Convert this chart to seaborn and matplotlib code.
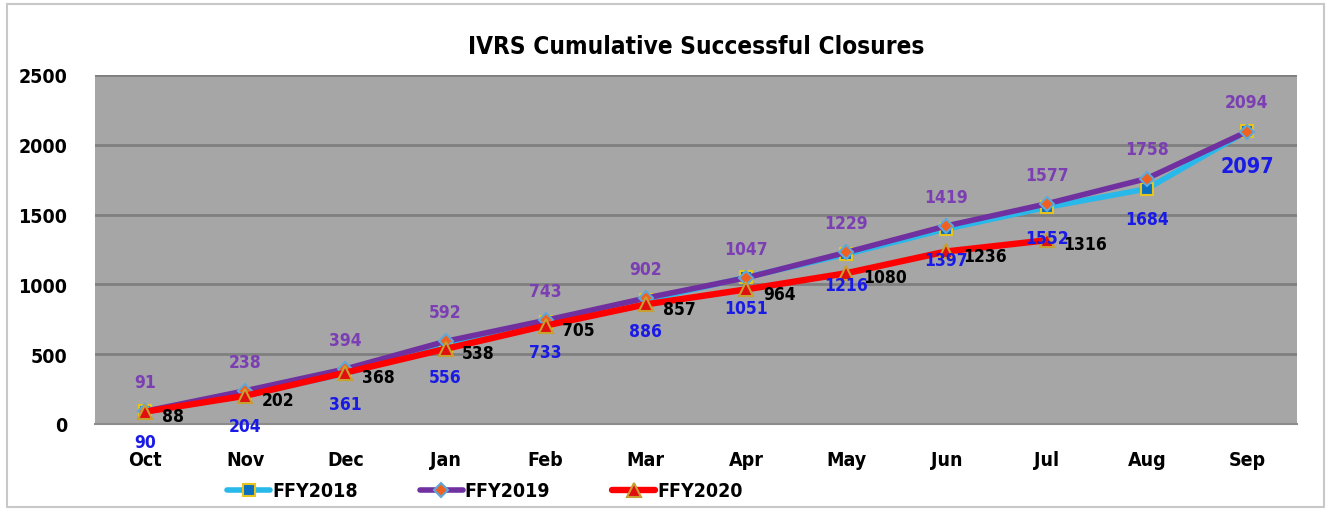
"""
IVRS cumulative successful closures, FFY2018-FFY2020.
"""
import numpy as np
import pandas as pd
import seaborn as sns
import matplotlib.pyplot as plt
from matplotlib.patches import Rectangle

months = ['Oct', 'Nov', 'Dec', 'Jan', 'Feb', 'Mar',
          'Apr', 'May', 'Jun', 'Jul', 'Aug', 'Sep']
ffy2018 = [90, 204, 361, 556, 733, 886, 1051, 1216, 1397, 1552, 1684, 2097]
ffy2019 = [91, 238, 394, 592, 743, 902, 1047, 1229, 1419, 1577, 1758, 2094]
ffy2020 = [88, 202, 368, 538, 705, 857, 964, 1080, 1236, 1316]

sns.set_style("white")
plt.rcParams['font.family'] = ['DejaVu Sans']
plt.rcParams['font.stretch'] = 'condensed'
plt.rcParams['font.weight'] = 'bold'
plt.rcParams['text.color'] = 'black'
plt.rcParams['xtick.color'] = 'black'
plt.rcParams['ytick.color'] = 'black'

fig = plt.figure(figsize=(13.28, 5.1), dpi=100)
ax = fig.add_axes([0.0715, 0.1667, 0.9052, 0.6843])
ax.set_facecolor('#a6a6a6')

# series: (name, values, line colour, marker, marker face, marker edge, lw, ms)
styles = [
    ('FFY2018', ffy2018, '#29b8ea', 's', '#0b6fc0', '#e8c51c', 4, 9),
    ('FFY2019', ffy2019, '#7030a0', 'D', '#f06020', '#5fa8d8', 4, 7.5),
    ('FFY2020', ffy2020, '#ff0000', '^', '#e01010', '#c8a030', 4.6, 9.5),
]
for name, vals, col, mk, mfc, mec, lw, ms in styles:
    df = pd.DataFrame({'month': months[:len(vals)], 'value': vals})
    sns.lineplot(data=df, x='month', y='value', sort=False, ax=ax,
                 color=col, lw=lw, marker=mk, markersize=ms,
                 markerfacecolor=mfc, markeredgecolor=mec,
                 markeredgewidth=1.5, label=name)

# data labels
for i, v in enumerate(ffy2019):
    ax.annotate(str(v), (i, v), xytext=(0, 21), textcoords='offset points',
                ha='center', va='center', fontsize=12.5,
                color='#7b3fb3', fontweight='bold')
for i, v in enumerate(ffy2018):
    big = i == len(ffy2018) - 1
    ax.annotate(str(v), (i, v), xytext=(0, -25 if big else -22),
                textcoords='offset points', ha='center', va='center',
                fontsize=15.5 if big else 12.5, color='#1a1ae6',
                fontweight='bold')
for i, v in enumerate(ffy2020):
    ax.annotate(str(v), (i, v), xytext=(12, -3), textcoords='offset points',
                ha='left', va='center', fontsize=12.5, color='black',
                fontweight='bold')

ax.set_ylim(0, 2500)
ax.set_xlim(-0.5, 11.5)
ax.set_yticks(np.arange(0, 2501, 500))
ax.yaxis.grid(True, color='#7f7f7f', lw=2)
ax.set_axisbelow(True)
ax.set_xlabel('')
ax.set_ylabel('')
ax.set_xticks(range(12))
ax.set_xticklabels(months)
ax.set_xticks(np.arange(-0.5, 12, 1), minor=True)
ax.tick_params(axis='x', which='major', length=0, pad=19, labelsize=14)
ax.tick_params(axis='x', which='minor', length=6, color='#8c8c8c', width=1.2)
ax.tick_params(axis='y', length=6, color='#8c8c8c', width=1.2, pad=14,
               labelsize=14)
for s in ['top', 'right', 'left']:
    ax.spines[s].set_visible(False)
ax.spines['bottom'].set_color('#8c8c8c')
ax.spines['bottom'].set_linewidth(1.5)

ax.set_title('IVRS Cumulative Successful Closures', fontsize=17.5,
             fontweight='bold', pad=16)

ax.get_legend().remove()
handles, labels = ax.get_legend_handles_labels()
fig.legend(handles, labels, loc='center', ncol=3,
           bbox_to_anchor=(485 / 1328, 1 - 492 / 510), frameon=False,
           fontsize=14, handlelength=2.2, handletextpad=0.1,
           columnspacing=3.2)

fig.patches.append(Rectangle((0.005, 0.004), 0.992, 0.986,
                             transform=fig.transFigure, fill=False,
                             edgecolor='#c8c8c8', lw=1.5))

plt.savefig('out.png', dpi=100)
